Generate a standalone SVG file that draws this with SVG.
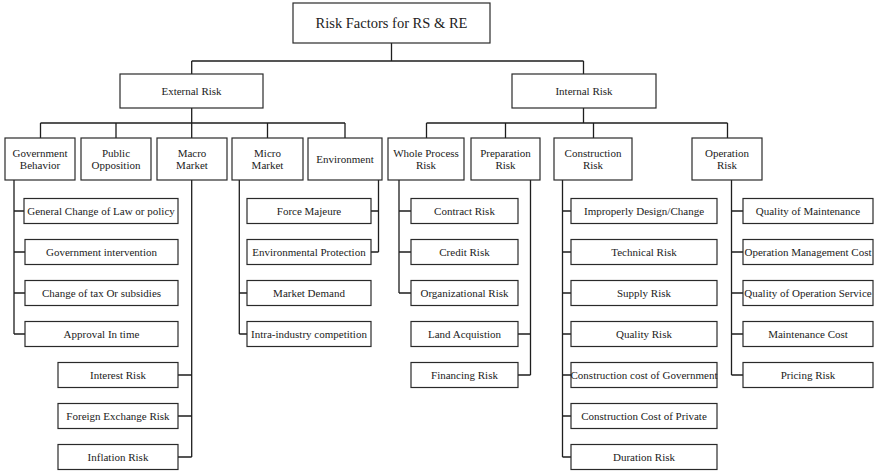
<svg xmlns="http://www.w3.org/2000/svg" width="874" height="471" viewBox="0 0 874 471">
  <style>
    .box { fill: #ffffff; stroke: #2a2a2a; stroke-width: 1.2; }
    .lbl { font-family: "Liberation Serif", "Times New Roman", serif; font-size: 11px; fill: #222; text-anchor: middle; }
    .title { font-size: 14.5px; }
    .conn path { fill: none; stroke: #1e1e1e; stroke-width: 1.3; }
  </style>
  <rect width="874" height="471" fill="#ffffff"/>

  <!-- connectors -->
  <g id="connectors" class="conn">
    <path d="M391.5,43 V61 M191.7,61 H583.5 M191.7,61 V74 M583.5,61 V74"/>
    <path d="M191.7,108 V123 M583.5,108 V123"/>
    <path d="M40.5,123 H345 M40.5,123 V138 M116,123 V138 M191.7,123 V138 M267.5,123 V138 M345,123 V138"/>
    <path d="M426.5,123 H727.5 M426.5,123 V138 M505.5,123 V138 M593.5,123 V138 M727.5,123 V138"/>
    <!-- Government Behavior -->
    <path d="M14,180 V334 M14,211 H24 M14,252 H25 M14,293 H25 M14,334 H25"/>
    <!-- Macro Market -->
    <path d="M191.7,180 V457 M178,375 H191.7 M178,416 H191.7 M178,457 H191.7"/>
    <!-- Micro Market -->
    <path d="M239.3,180 V334 M239.3,293 H247 M239.3,334 H247"/>
    <!-- Environment -->
    <path d="M378.5,180 V252 M371,211 H378.5 M371,252 H378.5"/>
    <!-- Whole Process Risk -->
    <path d="M399,180 V293 M399,211 H411 M399,252 H411 M399,293 H411"/>
    <!-- Preparation Risk -->
    <path d="M530.5,180 V375 M518,334 H530.5 M518,375 H530.5"/>
    <!-- Construction Risk -->
    <path d="M562.5,180 V457 M562.5,211 H571 M562.5,252 H571 M562.5,293 H571 M562.5,334 H571 M562.5,375 H571 M562.5,416 H571 M562.5,457 H571"/>
    <!-- Operation Risk -->
    <path d="M731.5,180 V375 M731.5,211 H743 M731.5,252 H743 M731.5,293 H743 M731.5,334 H743 M731.5,375 H743"/>
  </g>

  <!-- root -->
  <g id="root">
    <rect class="box" x="293" y="3" width="197" height="40"/>
    <text class="lbl title" x="391.5" y="28">Risk Factors for RS &amp; RE</text>
  </g>

  <!-- level 1 -->
  <g id="external-risk">
    <rect class="box" x="120" y="74" width="143" height="34"/>
    <text class="lbl" x="191.5" y="95">External Risk</text>
  </g>
  <g id="internal-risk">
    <rect class="box" x="512" y="74" width="144" height="34"/>
    <text class="lbl" x="584" y="95">Internal Risk</text>
  </g>

  <!-- level 2 -->
  <g id="government-behavior">
    <rect class="box" x="5" y="138" width="70" height="42"/>
    <text class="lbl" x="40" y="157">Government</text>
    <text class="lbl" x="40" y="169">Behavior</text>
  </g>
  <g id="public-opposition">
    <rect class="box" x="81" y="138" width="70" height="42"/>
    <text class="lbl" x="116" y="157">Public</text>
    <text class="lbl" x="116" y="169">Opposition</text>
  </g>
  <g id="macro-market">
    <rect class="box" x="157" y="138" width="70" height="42"/>
    <text class="lbl" x="192" y="157">Macro</text>
    <text class="lbl" x="192" y="169">Market</text>
  </g>
  <g id="micro-market">
    <rect class="box" x="232" y="138" width="71" height="42"/>
    <text class="lbl" x="267.5" y="157">Micro</text>
    <text class="lbl" x="267.5" y="169">Market</text>
  </g>
  <g id="environment">
    <rect class="box" x="308" y="138" width="74" height="42"/>
    <text class="lbl" x="345" y="163">Environment</text>
  </g>
  <g id="whole-process-risk">
    <rect class="box" x="388" y="138" width="76" height="42"/>
    <text class="lbl" x="426" y="157">Whole Process</text>
    <text class="lbl" x="426" y="169">Risk</text>
  </g>
  <g id="preparation-risk">
    <rect class="box" x="471" y="138" width="69" height="42"/>
    <text class="lbl" x="505.5" y="157">Preparation</text>
    <text class="lbl" x="505.5" y="169">Risk</text>
  </g>
  <g id="construction-risk">
    <rect class="box" x="554" y="138" width="78" height="42"/>
    <text class="lbl" x="593" y="157">Construction</text>
    <text class="lbl" x="593" y="169">Risk</text>
  </g>
  <g id="operation-risk">
    <rect class="box" x="692" y="138" width="70" height="42"/>
    <text class="lbl" x="727" y="157">Operation</text>
    <text class="lbl" x="727" y="169">Risk</text>
  </g>

  <!-- leaves: Government Behavior -->
  <g id="general-change-of-law">
    <rect class="box" x="24" y="198.5" width="154" height="25"/>
    <text class="lbl" x="101" y="215">General Change of Law or policy</text>
  </g>
  <g id="government-intervention">
    <rect class="box" x="25" y="239.5" width="153" height="25"/>
    <text class="lbl" x="101.5" y="256">Government intervention</text>
  </g>
  <g id="change-of-tax">
    <rect class="box" x="25" y="280.5" width="153" height="25"/>
    <text class="lbl" x="101.5" y="297">Change of tax Or subsidies</text>
  </g>
  <g id="approval-in-time">
    <rect class="box" x="25" y="321.5" width="153" height="25"/>
    <text class="lbl" x="101.5" y="338">Approval In time</text>
  </g>

  <!-- leaves: Macro Market -->
  <g id="interest-risk">
    <rect class="box" x="58" y="362.5" width="120" height="25"/>
    <text class="lbl" x="118" y="379">Interest Risk</text>
  </g>
  <g id="foreign-exchange-risk">
    <rect class="box" x="58" y="403.5" width="120" height="25"/>
    <text class="lbl" x="118" y="420">Foreign Exchange Risk</text>
  </g>
  <g id="inflation-risk">
    <rect class="box" x="58" y="444.5" width="120" height="25"/>
    <text class="lbl" x="118" y="461">Inflation Risk</text>
  </g>

  <!-- leaves: Environment / Micro Market -->
  <g id="force-majeure">
    <rect class="box" x="247" y="198.5" width="124" height="25"/>
    <text class="lbl" x="309" y="215">Force Majeure</text>
  </g>
  <g id="environmental-protection">
    <rect class="box" x="247" y="239.5" width="124" height="25"/>
    <text class="lbl" x="309" y="256">Environmental Protection</text>
  </g>
  <g id="market-demand">
    <rect class="box" x="247" y="280.5" width="124" height="25"/>
    <text class="lbl" x="309" y="297">Market Demand</text>
  </g>
  <g id="intra-industry-competition">
    <rect class="box" x="247" y="321.5" width="124" height="25"/>
    <text class="lbl" x="309" y="338">Intra-industry competition</text>
  </g>

  <!-- leaves: Whole Process / Preparation -->
  <g id="contract-risk">
    <rect class="box" x="411" y="198.5" width="107" height="25"/>
    <text class="lbl" x="464.5" y="215">Contract Risk</text>
  </g>
  <g id="credit-risk">
    <rect class="box" x="411" y="239.5" width="107" height="25"/>
    <text class="lbl" x="464.5" y="256">Credit Risk</text>
  </g>
  <g id="organizational-risk">
    <rect class="box" x="411" y="280.5" width="107" height="25"/>
    <text class="lbl" x="464.5" y="297">Organizational Risk</text>
  </g>
  <g id="land-acquisition">
    <rect class="box" x="411" y="321.5" width="107" height="25"/>
    <text class="lbl" x="464.5" y="338">Land Acquistion</text>
  </g>
  <g id="financing-risk">
    <rect class="box" x="411" y="362.5" width="107" height="25"/>
    <text class="lbl" x="464.5" y="379">Financing Risk</text>
  </g>

  <!-- leaves: Construction -->
  <g id="improperly-design">
    <rect class="box" x="571" y="198.5" width="146" height="25"/>
    <text class="lbl" x="644" y="215">Improperly Design/Change</text>
  </g>
  <g id="technical-risk">
    <rect class="box" x="571" y="239.5" width="146" height="25"/>
    <text class="lbl" x="644" y="256">Technical Risk</text>
  </g>
  <g id="supply-risk">
    <rect class="box" x="571" y="280.5" width="146" height="25"/>
    <text class="lbl" x="644" y="297">Supply Risk</text>
  </g>
  <g id="quality-risk">
    <rect class="box" x="571" y="321.5" width="146" height="25"/>
    <text class="lbl" x="644" y="338">Quality Risk</text>
  </g>
  <g id="construction-cost-government">
    <rect class="box" x="571" y="362.5" width="146" height="25"/>
    <text class="lbl" x="644" y="379">Construction cost of Government</text>
  </g>
  <g id="construction-cost-private">
    <rect class="box" x="571" y="403.5" width="146" height="25"/>
    <text class="lbl" x="644" y="420">Construction Cost of Private</text>
  </g>
  <g id="duration-risk">
    <rect class="box" x="571" y="444.5" width="146" height="25"/>
    <text class="lbl" x="644" y="461">Duration Risk</text>
  </g>

  <!-- leaves: Operation -->
  <g id="quality-of-maintenance">
    <rect class="box" x="743" y="198.5" width="130" height="25"/>
    <text class="lbl" x="808" y="215">Quality of Maintenance</text>
  </g>
  <g id="operation-management-cost">
    <rect class="box" x="743" y="239.5" width="130" height="25"/>
    <text class="lbl" x="808" y="256">Operation Management Cost</text>
  </g>
  <g id="quality-of-operation-service">
    <rect class="box" x="743" y="280.5" width="130" height="25"/>
    <text class="lbl" x="808" y="297">Quality of Operation Service</text>
  </g>
  <g id="maintenance-cost">
    <rect class="box" x="743" y="321.5" width="130" height="25"/>
    <text class="lbl" x="808" y="338">Maintenance Cost</text>
  </g>
  <g id="pricing-risk">
    <rect class="box" x="743" y="362.5" width="130" height="25"/>
    <text class="lbl" x="808" y="379">Pricing Risk</text>
  </g>
</svg>
